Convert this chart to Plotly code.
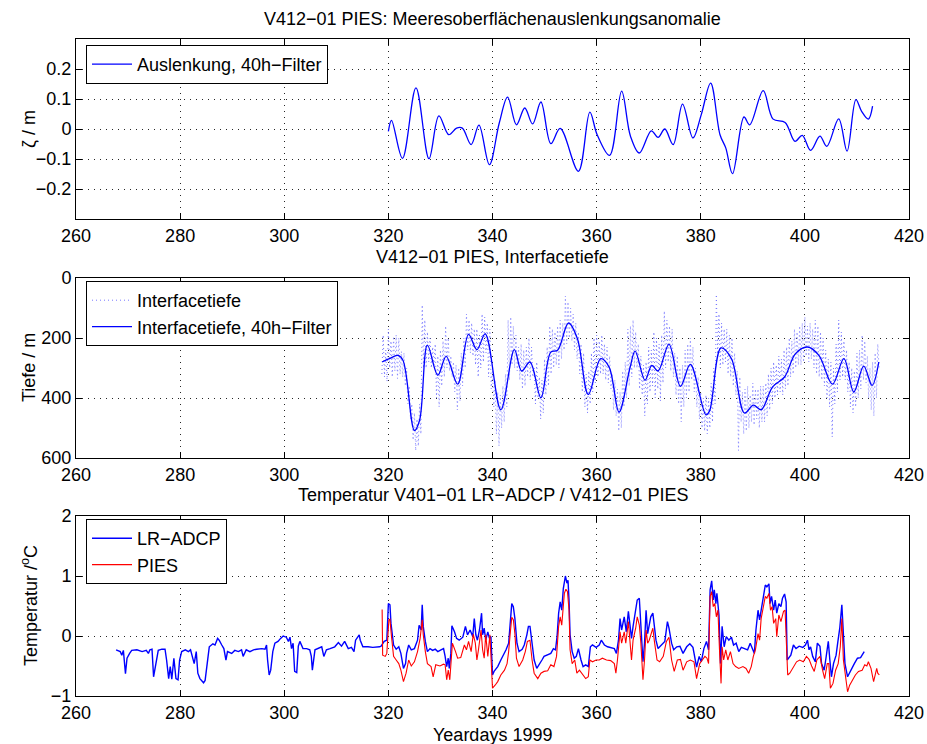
import numpy as np
import plotly.graph_objects as go

W, H = 927, 744
FONT = "Liberation Sans, Arial, Helvetica, sans-serif"
FS = 18

# ---------------- sea-surface displacement anomaly (40h filter) ----------------
ssh_day = [320.0, 320.6, 322.7, 325.3, 327.8, 329.7, 331.6, 333.1, 334.2, 335.9,
           337.4, 339.4, 341.3, 342.9, 344.6, 346.2, 347.7, 349.3, 351.2, 353.0,
           356.5, 358.7, 360.1, 362.5, 364.8, 366.5, 368.2, 370.5, 371.8, 373.1,
           374.7, 376.5, 378.5, 380.1, 381.9, 383.7, 384.8, 386.1, 388.3, 389.4,
           392.0, 393.9, 396.2, 398.1, 399.5, 401.1, 402.9, 404.2, 406.5, 408.1,
           409.8, 410.9, 412.2, 413.0]
ssh_val = [-0.008, 0.029, -0.098, 0.137, -0.099, 0.044, -0.019, 0.003, 0.003, -0.052,
           0.013, -0.119, 0.020, 0.106, 0.014, 0.070, 0.017, 0.090, -0.049, 0.002,
           -0.141, 0.056, -0.019, -0.088, 0.126, -0.024, -0.080, -0.006, -0.028, 0.000,
           -0.052, 0.083, -0.030, 0.048, 0.153, -0.019, -0.063, -0.149, 0.040, 0.014,
           0.128, 0.033, 0.022, -0.041, -0.021, -0.071, -0.024, -0.058, 0.034, -0.074,
           0.098, 0.059, 0.033, 0.076]

# ---------------- interface depth: raw (6-hourly) and 40h filtered ----------------
raw_start, raw_step = 318.75, 0.25
raw_depth = [320,
    190, 330, 240, 345,  170, 300, 210, 330,  195, 310, 190, 335,  200, 320, 245, 330,
    250, 360, 300, 420,  360, 470, 420, 540,  450, 575, 470, 560,  420, 520, 90, 300,
    140, 300, 180, 280,  200, 300, 230, 290,  220, 400, 260, 430,  240, 360, 210, 330,
    160, 300, 200, 310,  260, 330, 280, 380,  290, 440, 300, 410,  250, 360, 200, 300,
    120, 240, 140, 250,  150, 260, 170, 290,  170, 330, 190, 300,  120, 280, 130, 250,
    150, 330, 170, 370,  300, 430, 340, 520,  380, 560, 390, 500,  360, 480, 320, 430,
    140, 340, 130, 290,  160, 300, 190, 310,  230, 340, 220, 370,  240, 360, 230, 330,
    200, 340, 230, 330,  300, 420, 280, 400,  330, 470, 340, 450,  270, 390, 230, 360,
    160, 320, 170, 300,  180, 290, 160, 300,  140, 270, 150, 240,  60, 220, 80, 200,
    100, 210, 120, 240,  150, 270, 180, 320,  220, 380, 250, 430,  320, 450, 310, 420,
    250, 380, 200, 350,  190, 330, 210, 320,  190, 320, 220, 340,  230, 350, 260, 370,
    320, 440, 340, 460,  370, 510, 380, 500,  310, 430, 280, 400,  170, 360, 160, 330,
    140, 300, 180, 300,  220, 370, 260, 390,  290, 460, 280, 420,  230, 380, 240, 360,
    180, 400, 200, 370,  220, 410, 190, 350,  110, 300, 140, 280,  160, 310, 170, 330,
    250, 390, 260, 420,  300, 480, 290, 430,  240, 400, 220, 380,  200, 340, 230, 380,
    300, 430, 330, 470,  380, 500, 400, 510,  390, 520, 400, 500,  350, 480, 300, 420,
    55, 260, 120, 300,   150, 290, 170, 280,  170, 320, 190, 330,  200, 360, 250, 390,
    310, 575, 330, 480,  380, 520, 370, 510,  360, 500, 390, 480,  350, 490, 370, 470,
    370, 500, 360, 480,  360, 480, 350, 460,  320, 440, 300, 420,  280, 400, 290, 390,
    260, 380, 270, 390,  240, 370, 230, 360,  200, 330, 210, 320,  170, 300, 180, 290,
    160, 290, 150, 280,  130, 260, 160, 280,  150, 270, 170, 300,  140, 320, 160, 330,
    180, 340, 200, 360,  240, 400, 270, 430,  280, 530, 300, 420,  220, 380, 140, 340,
    180, 330, 210, 340,  240, 380, 280, 430,  300, 450, 310, 430,  250, 400, 240, 370,
    190, 340, 210, 350,  260, 400, 300, 440,  280, 460, 250, 400,
    220, 300]
raw_day = raw_start + raw_step * np.arange(len(raw_depth))

filt_day = [318.8, 320.2, 321.8, 322.8, 325.0, 326.0, 327.5, 329.5, 331.1, 333.3,
            335.4, 337.0, 338.6, 341.6, 344.2, 345.6, 347.2, 349.3, 351.2, 352.5,
            354.6, 356.3, 358.4, 360.8, 362.4, 364.3, 366.4, 367.4, 369.3, 370.6,
            371.8, 373.9, 376.1, 378.0, 381.0, 381.7, 383.9, 385.9, 388.4, 390.1,
            391.6, 393.8, 396.1, 398.2, 400.5, 402.7, 405.3, 407.5, 409.4, 411.3,
            412.9, 414.2]
filt_depth = [280, 269, 258, 274, 508, 474, 224, 324, 261, 354,
              188, 239, 186, 439, 239, 310, 280, 399, 247, 241,
              150, 202, 388, 269, 297, 447, 300, 244, 341, 291,
              310, 221, 361, 288, 456, 443, 233, 269, 450, 424,
              439, 363, 330, 252, 230, 258, 354, 269, 380, 294,
              358, 280]

# ---------------- temperature: LR-ADCP and PIES ----------------
adcp_day = [267.7, 268.5, 268.8, 269.1, 269.5, 269.8, 270.3, 270.7, 271.7, 272.7,
            273.5, 273.9, 274.2, 274.6, 274.9, 275.4, 275.8, 276.5, 277.1, 277.4,
            277.8, 278.1, 278.4, 278.8, 279.2, 279.6, 279.9, 280.3, 281.0, 281.6,
            282.0, 282.7, 283.1, 283.4, 283.8, 284.5, 284.8, 285.2, 285.6, 286.3,
            286.7, 287.2, 287.5, 288.0, 288.4, 288.8, 289.1, 289.9, 290.5, 291.2,
            291.8, 292.1, 292.7, 293.4, 294.1, 294.7, 295.7, 296.3, 296.6, 296.8,
            297.1, 297.4, 297.8, 298.2, 298.8, 299.3, 299.8, 300.4, 300.8, 301.1,
            301.4, 301.7, 302.0, 302.4, 302.7, 303.0, 303.6, 304.3, 304.9, 305.2,
            305.4, 305.9, 306.5, 307.2, 307.6, 308.1, 308.8, 309.7, 310.4, 311.0,
            311.6, 312.3, 312.9, 313.4, 313.7, 314.4, 314.6, 315.1, 316.1, 317.0,
            318.3, 318.6, 319.2, 319.7, 320.0, 320.3, 320.5, 321.0, 321.5, 322.0,
            322.4, 322.9, 323.3, 323.5, 323.9, 324.4, 325.0, 325.6, 325.9, 326.3,
            326.5, 326.7, 327.1, 327.5, 328.0, 328.5, 329.0, 329.5, 330.1, 330.6,
            330.9, 331.2, 331.5, 331.7, 332.0, 332.2, 332.7, 333.1, 333.6, 334.3,
            334.8, 335.2, 335.7, 336.2, 336.5, 336.8, 337.1, 337.5, 337.9, 338.1,
            338.4, 338.7, 339.1, 339.4, 339.7, 340.0, 340.3, 341.0, 341.6, 342.1,
            342.6, 343.1, 343.4, 343.7, 344.0, 344.3, 344.7, 345.1, 345.7, 346.1,
            346.6, 346.9, 347.2, 347.6, 348.0, 348.5, 349.0, 349.5, 349.9, 350.6,
            351.2, 351.7, 352.1, 352.4, 352.7, 353.0, 353.3, 353.6, 354.0, 354.3,
            354.5, 354.7, 354.9, 355.3, 355.7, 356.1, 356.5, 357.0, 357.4, 357.9,
            358.4, 358.8, 359.2, 359.9, 360.5, 360.9, 361.5, 362.1, 362.7, 363.4,
            363.8, 364.2, 364.5, 364.8, 365.3, 365.7, 366.1, 366.7, 367.0, 367.5,
            367.8, 368.2, 368.5, 368.9, 369.2, 369.5, 369.8, 370.1, 370.4, 370.8,
            371.1, 371.4, 371.8, 372.5, 373.1, 373.6, 373.9, 374.4, 374.8, 375.4,
            376.0, 376.6, 377.3, 377.9, 378.5, 379.2, 379.7, 380.1, 380.6, 381.1,
            381.5, 381.8, 382.1, 382.4, 382.6, 382.9, 383.1, 383.5, 383.8, 384.1,
            384.5, 384.9, 385.4, 385.9, 386.3, 386.8, 387.3, 387.8, 388.4, 389.0,
            389.5, 389.9, 390.3, 390.6, 391.0, 391.3, 391.7, 392.1, 392.4, 392.7,
            393.1, 393.3, 393.6, 394.0, 394.3, 394.6, 395.0, 395.4, 395.7, 396.1,
            396.4, 396.6, 396.9, 397.3, 397.8, 398.3, 398.9, 399.6, 400.1, 400.5,
            400.8, 401.1, 401.5, 402.0, 402.4, 402.9, 403.2, 403.7, 404.0, 404.5,
            404.8, 405.1, 405.5, 406.0, 406.3, 406.7, 407.1, 407.4, 407.7, 408.2,
            408.8, 409.5, 410.1, 410.7, 411.4]
adcp_temp = [-0.23, -0.26, -0.32, -0.24, -0.63, -0.37, -0.29, -0.24, -0.23, -0.26,
             -0.24, -0.29, -0.23, -0.22, -0.68, -0.40, -0.24, -0.22, -0.22, -0.40,
             -0.71, -0.51, -0.72, -0.37, -0.71, -0.73, -0.40, -0.26, -0.23, -0.26,
             -0.23, -0.46, -0.26, -0.62, -0.71, -0.78, -0.74, -0.46, -0.18, -0.13,
             -0.15, -0.04, -0.07, -0.15, -0.21, -0.40, -0.26, -0.29, -0.24, -0.26,
             -0.23, -0.34, -0.23, -0.26, -0.23, -0.22, -0.21, -0.22, -0.15, -0.40,
             -0.65, -0.57, -0.26, -0.12, -0.09, -0.04, 0.00, -0.02, -0.09, -0.02,
             -0.21, -0.12, -0.59, -0.61, -0.17, -0.09, -0.21, -0.21, -0.23, -0.34,
             -0.57, -0.23, -0.21, -0.18, -0.34, -0.23, -0.21, -0.18, -0.11, -0.17,
             -0.09, -0.21, -0.19, -0.26, -0.07, 0.02, -0.07, -0.18, -0.18, -0.19,
             -0.18, -0.17, -0.09, -0.07, 0.54, 0.52, 0.21, -0.15, -0.22, -0.18,
             -0.29, -0.54, -0.46, -0.29, -0.15, -0.23, -0.21, -0.07, 0.18, 0.10,
             0.52, 0.16, -0.09, -0.26, -0.21, -0.24, -0.22, -0.26, -0.23, -0.21,
             -0.34, -0.51, -0.37, -0.54, -0.29, 0.17, 0.07, -0.04, -0.07, -0.02,
             0.16, 0.02, 0.10, -0.01, 0.29, 0.02, -0.07, 0.10, 0.38, 0.02,
             0.13, -0.07, 0.07, -0.04, -0.01, -0.65, -0.59, -0.51, -0.40, -0.32,
             -0.23, -0.12, 0.16, 0.54, 0.49, 0.29, -0.12, -0.26, -0.22, -0.15,
             0.02, 0.16, 0.16, -0.18, -0.40, -0.54, -0.48, -0.40, -0.34, -0.32,
             -0.29, -0.21, -0.23, -0.01, 0.38, 0.57, 0.43, 0.79, 1.00, 0.88,
             0.93, 0.60, 0.02, -0.26, -0.37, -0.34, -0.21, -0.40, -0.51, -0.48,
             -0.51, -0.18, -0.15, -0.19, -0.15, -0.07, -0.15, -0.18, -0.19, -0.21,
             -0.29, -0.07, 0.29, 0.10, 0.32, 0.07, 0.41, -0.04, 0.16, 0.41,
             0.60, 0.63, 0.16, -0.43, -0.12, 0.43, 0.04, 0.16, 0.32, 0.38,
             0.10, -0.07, -0.21, -0.15, -0.09, 0.24, 0.13, -0.12, -0.23, -0.18,
             -0.17, -0.29, -0.18, -0.13, -0.19, -0.52, -0.34, -0.43, -0.21, -0.09,
             -0.23, 0.77, 0.92, 0.60, 0.77, 0.54, 0.71, 0.35, -0.46, 0.16,
             -0.18, -0.01, -0.07, -0.02, -0.15, -0.12, -0.26, -0.19, -0.21, -0.23,
             -0.12, -0.21, -0.29, 0.10, 0.43, 0.27, 0.49, 0.66, 0.85, 0.82,
             0.87, 0.54, 0.66, 0.43, 0.60, 0.38, 0.54, 0.49, 0.63, 0.70,
             0.57, -0.40, -0.37, -0.32, -0.15, -0.21, -0.17, -0.19, -0.15, -0.07,
             -0.23, -0.18, -0.34, -0.43, -0.12, -0.17, -0.46, -0.57, -0.40, -0.09,
             -0.40, -0.68, -0.46, -0.32, -0.12, 0.13, 0.52, -0.01, -0.46, -0.68,
             -0.57, -0.46, -0.37, -0.36, -0.26]

pies_day = [318.8, 318.9, 319.4, 319.7, 320.1, 320.3, 320.6, 321.0, 321.5, 322.0,
            322.4, 322.9, 323.4, 323.9, 324.4, 325.0, 325.6, 326.1, 326.5, 326.7,
            327.1, 327.5, 328.2, 328.6, 329.1, 329.9, 330.6, 330.9, 331.2, 331.5,
            331.8, 332.1, 332.3, 332.9, 333.3, 333.9, 334.6, 335.0, 335.4, 335.9,
            336.3, 336.7, 337.0, 337.3, 337.8, 338.1, 338.4, 338.7, 339.1, 339.5,
            339.8, 340.0, 340.5, 341.0, 341.6, 342.3, 342.8, 343.1, 343.4, 343.7,
            344.0, 344.3, 344.6, 345.1, 345.8, 346.3, 346.7, 347.2, 347.6, 348.0,
            348.7, 349.3, 349.9, 350.6, 351.2, 351.8, 352.3, 352.7, 353.0, 353.3,
            353.8, 354.1, 354.4, 354.7, 354.9, 355.3, 355.8, 356.2, 356.7, 357.3,
            357.9, 358.4, 358.7, 359.2, 359.9, 360.5, 361.1, 361.9, 362.7, 363.4,
            363.7, 364.0, 364.5, 364.8, 365.3, 365.6, 366.1, 366.7, 367.0, 367.5,
            367.8, 368.2, 368.5, 368.9, 369.2, 369.5, 369.8, 370.1, 370.5, 370.8,
            371.1, 371.6, 372.1, 372.8, 373.4, 373.9, 374.4, 374.9, 375.5, 376.1,
            376.6, 377.3, 378.0, 378.7, 379.2, 379.8, 380.3, 380.8, 381.2, 381.5,
            381.8, 382.1, 382.4, 382.7, 383.0, 383.3, 383.6, 383.9, 384.1, 384.4,
            384.8, 385.2, 385.7, 386.2, 386.7, 387.3, 388.1, 388.7, 389.2, 389.7,
            390.1, 390.5, 391.0, 391.3, 391.6, 392.1, 392.4, 392.7, 393.1, 393.4,
            393.7, 394.0, 394.4, 394.6, 395.0, 395.4, 395.9, 396.2, 396.4, 396.7,
            397.1, 397.8, 398.4, 399.0, 399.7, 400.3, 400.8, 401.3, 401.8, 402.3,
            402.9, 403.4, 403.8, 404.3, 404.6, 404.9, 405.4, 405.9, 406.4, 406.8,
            407.1, 407.4, 407.8, 408.2, 408.6, 409.1, 409.7, 410.3, 411.0, 411.5,
            411.9, 412.2, 412.7, 413.2, 413.5, 413.8, 414.0, 414.3]
pies_temp = [0.44, -0.32, -0.34, -0.29, 0.27, 0.28, -0.01, -0.34, -0.40, -0.46,
             -0.57, -0.76, -0.62, -0.40, -0.50, -0.43, -0.26, -0.04, 0.27, 0.02,
             -0.26, -0.46, -0.51, -0.68, -0.48, -0.50, -0.47, -0.48, -0.73, -0.57,
             -0.73, -0.40, -0.12, -0.26, -0.37, -0.36, -0.15, -0.23, -0.09, -0.26,
             0.03, -0.12, -0.40, -0.23, 0.10, -0.23, -0.37, 0.02, -0.34, 0.02,
             -0.40, -0.87, -0.82, -0.76, -0.65, -0.57, -0.46, -0.26, 0.04, 0.31,
             0.27, 0.04, -0.37, -0.51, -0.40, -0.26, -0.09, -0.07, -0.40, -0.62,
             -0.71, -0.62, -0.59, -0.58, -0.48, -0.51, -0.34, 0.16, 0.32, 0.18,
             0.71, 0.78, 0.74, 0.43, -0.23, -0.46, -0.40, -0.62, -0.57, -0.65,
             -0.71, -0.68, -0.40, -0.43, -0.40, -0.40, -0.37, -0.40, -0.41, -0.46,
             -0.62, -0.40, 0.07, -0.12, 0.07, -0.12, 0.24, -0.40, -0.07, 0.13,
             0.32, 0.18, -0.12, -0.73, -0.40, 0.10, -0.12, -0.07, 0.07, 0.13,
             -0.09, -0.40, -0.43, -0.34, -0.09, -0.02, -0.40, -0.59, -0.40, -0.39,
             -0.57, -0.43, -0.40, -0.43, -0.71, -0.46, -0.40, -0.34, -0.37, -0.46,
             0.66, 0.74, 0.49, 0.54, 0.32, 0.43, -0.23, -0.79, -0.18, -0.40,
             -0.23, -0.40, -0.26, -0.46, -0.51, -0.54, -0.51, -0.54, -0.62, -0.51,
             -0.34, -0.23, 0.04, -0.07, 0.29, 0.52, 0.66, 0.63, 0.71, 0.43,
             0.49, 0.21, 0.29, -0.01, 0.35, 0.24, 0.41, 0.43, -0.12, -0.65,
             -0.62, -0.51, -0.43, -0.40, -0.43, -0.34, -0.39, -0.50, -0.59, -0.40,
             -0.34, -0.57, -0.71, -0.46, -0.46, -0.87, -0.79, -0.57, -0.46, -0.18,
             0.29, -0.40, -0.68, -0.93, -0.82, -0.73, -0.65, -0.59, -0.57, -0.48,
             -0.50, -0.43, -0.54, -0.76, -0.65, -0.54, -0.62, -0.65]

# ---------------- figure ----------------
fig = go.Figure()

fig.add_trace(go.Scatter(
    x=ssh_day, y=ssh_val, mode="lines", name="Auslenkung, 40h\u2212Filter",
    line=dict(color="rgb(0,0,255)", width=1.3, shape="spline", smoothing=1.0),
    xaxis="x", yaxis="y", legend="legend"))

fig.add_trace(go.Scatter(
    x=raw_day, y=raw_depth, mode="lines", name="Interfacetiefe",
    line=dict(color="rgb(120,120,255)", width=1, dash="1px,3px"),
    xaxis="x2", yaxis="y2", legend="legend2"))
fig.add_trace(go.Scatter(
    x=filt_day, y=filt_depth, mode="lines", name="Interfacetiefe, 40h\u2212Filter",
    line=dict(color="rgb(0,0,255)", width=1.3, shape="spline", smoothing=1.0),
    xaxis="x2", yaxis="y2", legend="legend2"))

fig.add_trace(go.Scatter(
    x=adcp_day, y=adcp_temp, mode="lines", name="LR\u2212ADCP",
    line=dict(color="rgb(0,0,255)", width=1.4),
    xaxis="x3", yaxis="y3", legend="legend3"))
fig.add_trace(go.Scatter(
    x=pies_day, y=pies_temp, mode="lines", name="PIES",
    line=dict(color="rgb(255,0,0)", width=1.1),
    xaxis="x3", yaxis="y3", legend="legend3"))

# panel rectangles in pixels (top, bottom)
X0, X1 = 76, 909
panels = [(39, 219), (278, 458), (516, 696)]


def ydom(top, bot):
    return [1 - bot / H, 1 - top / H]


axis_common = dict(
    showline=True, linecolor="black", linewidth=1, mirror="ticks",
    ticks="inside", ticklen=6, tickcolor="black", automargin=False,
    showgrid=True, gridcolor="rgba(0,0,0,0.85)", griddash="1px,5px", gridwidth=1,
    zeroline=False, tickfont=dict(family=FONT, size=FS, color="black"),
)
title_font = dict(family=FONT, size=FS, color="black")

xdom = [X0 / W, X1 / W]
for ax, anchor in [("xaxis", "y"), ("xaxis2", "y2"), ("xaxis3", "y3")]:
    fig.layout[ax] = dict(axis_common, domain=xdom, anchor=anchor,
                          range=[260, 420], tick0=260, dtick=20)

fig.layout.yaxis = dict(axis_common, domain=ydom(*panels[0]), anchor="x",
                        range=[-0.3, 0.3], tickvals=[-0.2, -0.1, 0, 0.1, 0.2],
                        ticktext=["\u22120.2", "\u22120.1", "0", "0.1", "0.2"])
fig.layout.yaxis2 = dict(axis_common, domain=ydom(*panels[1]), anchor="x2",
                         range=[600, 0], tickvals=[0, 200, 400, 600])
fig.layout.yaxis3 = dict(axis_common, domain=ydom(*panels[2]), anchor="x3",
                         range=[-1, 2], tickvals=[-1, 0, 1, 2],
                         ticktext=["\u22121", "0", "1", "2"])

legend_common = dict(
    bgcolor="white", bordercolor="black", borderwidth=1,
    font=dict(family=FONT, size=FS, color="black"),
    xanchor="left", yanchor="top", x=86 / W, itemwidth=40, tracegroupgap=0,
)
fig.layout.legend = dict(legend_common, y=1 - 45 / H)
fig.layout.legend2 = dict(legend_common, y=1 - 281 / H)
fig.layout.legend3 = dict(legend_common, y=1 - 519 / H)

# panel titles and the common x label
titles = [
    ("V412\u221201 PIES: Meeresoberfl\u00e4chenauslenkungsanomalie", 19),
    ("V412\u221201 PIES, Interfacetiefe", 257),
    ("Temperatur V401\u221201 LR\u2212ADCP / V412\u221201 PIES", 495),
    ("Yeardays 1999", 735),
]
for text, ypx in titles:
    fig.add_annotation(text=text, x=(X0 + X1) / 2 / W, y=1 - ypx / H,
                       xref="paper", yref="paper", xanchor="center", yanchor="middle",
                       showarrow=False, font=title_font)

# rotated y-axis labels, aligned in one column left of the tick labels
ylabels = [("\u03b6 / m", panels[0]),
           ("Tiefe / m", panels[1]),
           ("Temperatur /<sup>o</sup>C", panels[2])]
for text, (top, bot) in ylabels:
    fig.add_annotation(text=text, x=29 / W, y=1 - (top + bot) / 2 / H,
                       xref="paper", yref="paper", xanchor="center", yanchor="middle",
                       textangle=-90, showarrow=False, font=title_font)

fig.update_layout(
    width=W, height=H, autosize=False,
    margin=dict(l=0, r=0, t=0, b=0, autoexpand=False),
    paper_bgcolor="white", plot_bgcolor="white",
    showlegend=True,
)

fig.write_html("out.html")
